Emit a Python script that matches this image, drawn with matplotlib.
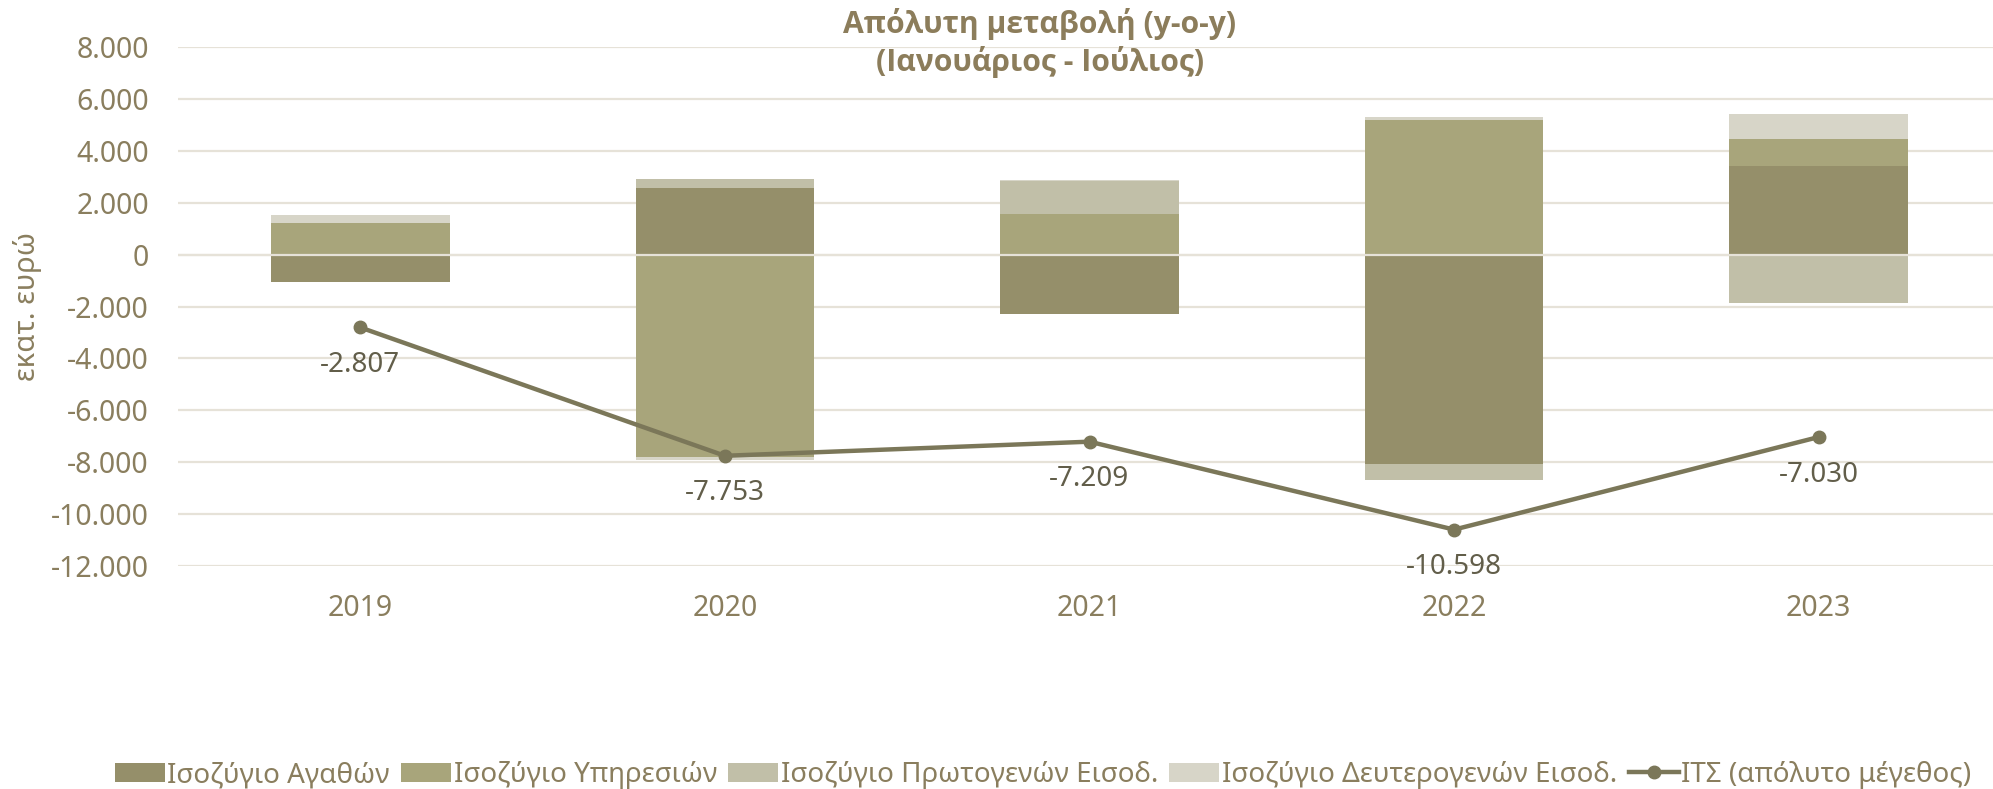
import numpy as np
import matplotlib.pyplot as plt
from matplotlib.patches import Patch
from matplotlib.lines import Line2D

plt.rcParams['font.family'] = ['Noto Sans', 'DejaVu Sans']

# --- Data (εκατ. ευρώ) ------------------------------------------------------
years = ['2019', '2020', '2021', '2022', '2023']
goods = [-1050, 2580, -2270, -8070, 3420]        # Ισοζύγιο Αγαθών
services = [1210, -7800, 1580, 5200, 1020]      # Ισοζύγιο Υπηρεσιών
primary = [-20, 320, 1250, -610, -1870]          # Ισοζύγιο Πρωτογενών Εισοδ.
secondary = [300, -100, 30, 100, 985]            # Ισοζύγιο Δευτερογενών Εισοδ.
its = [-2807, -7753, -7209, -10598, -7030]       # ΙΤΣ (απόλυτο μέγεθος)
its_labels = ['-2.807', '-7.753', '-7.209', '-10.598', '-7.030']

series_names = ['Ισοζύγιο Αγαθών', 'Ισοζύγιο Υπηρεσιών',
                'Ισοζύγιο Πρωτογενών Εισοδ.', 'Ισοζύγιο Δευτερογενών Εισοδ.']
line_name = 'ΙΤΣ (απόλυτο μέγεθος)'
yticks = [8000, 6000, 4000, 2000, 0, -2000, -4000, -6000, -8000, -10000, -12000]
ytick_labels = ['8.000', '6.000', '4.000', '2.000', '0', '-2.000', '-4.000',
                '-6.000', '-8.000', '-10.000', '-12.000']

colors = ['#958F6A', '#A8A57B', '#C1BFA8', '#D7D5C8']
line_color = '#7B7759'
text_color = '#8A7E5E'
label_color = '#625E4A'
grid_color = '#E6E2D8'

# --- Plot -------------------------------------------------------------------
fig = plt.figure(figsize=(19.93, 7.89), dpi=100)
ax = fig.add_axes([178 / 1993, 1 - 566 / 789, (2001 - 178) / 1993, 519 / 789])

x = np.arange(len(years))
pos_bottom = np.zeros(len(years))
neg_bottom = np.zeros(len(years))
for vals, col in zip([goods, services, primary, secondary], colors):
    vals = np.array(vals, dtype=float)
    bottom = np.where(vals >= 0, pos_bottom, neg_bottom)
    ax.bar(x, vals, width=0.49, bottom=bottom, color=col, zorder=2)
    pos_bottom += np.where(vals >= 0, vals, 0)
    neg_bottom += np.where(vals < 0, vals, 0)

ax.axhline(0, color=grid_color, linewidth=1.6, zorder=3)

ax.plot(x, its, color=line_color, linewidth=3.2, marker='o', markersize=9,
        zorder=4)
for xi, v, lab in zip(x, its, its_labels):
    ax.annotate(lab, (xi, v), xytext=(0, -27), textcoords='offset points',
                ha='center', va='center', fontsize=20, color=label_color)

ax.set_xlim(-0.5, len(years) - 0.5)
ax.set_ylim(-12000, 8000)
ax.set_yticks(yticks)
ax.set_yticklabels(ytick_labels)
ax.set_xticks(x)
ax.set_xticklabels(years)
ax.tick_params(axis='both', length=0, labelsize=20.5, colors=text_color)
ax.tick_params(axis='y', pad=21)
ax.tick_params(axis='x', pad=20)
ax.grid(axis='y', color=grid_color, linewidth=1.6, zorder=0)
ax.set_axisbelow(True)
for s in ax.spines.values():
    s.set_visible(False)

fig.text(28 / 1993, 1 - 306 / 789, 'εκατ. ευρώ', rotation=90, ha='center',
         va='center', fontsize=21, color=text_color)

title_font = ['Open Sans', 'DejaVu Sans']
fig.text(1040 / 1993, 1 - 24 / 789, 'Απόλυτη μεταβολή (y-o-y)', ha='center',
         va='center', fontsize=21.7, fontweight='bold', color='#8C7D5B',
         family=title_font)
fig.text(1040 / 1993, 1 - 62 / 789, '(Ιανουάριος - Ιούλιος)', ha='center',
         va='center', fontsize=21.7, fontweight='bold', color='#8C7D5B',
         family=title_font)

handles = [Patch(facecolor=c, label=n) for c, n in zip(colors, series_names)]
handles.append(Line2D([], [], color=line_color, linewidth=3.2, marker='o',
                      markersize=9, label=line_name))
fig.legend(handles=handles, loc='center', ncol=5,
           bbox_to_anchor=(1043 / 1993, 1 - 775 / 789), frameon=False,
           fontsize=20, labelcolor=text_color, handlelength=1.8,
           handleheight=0.65, handletextpad=0.1, columnspacing=0.4)

fig.savefig('out.png', dpi=100)
plt.close(fig)
